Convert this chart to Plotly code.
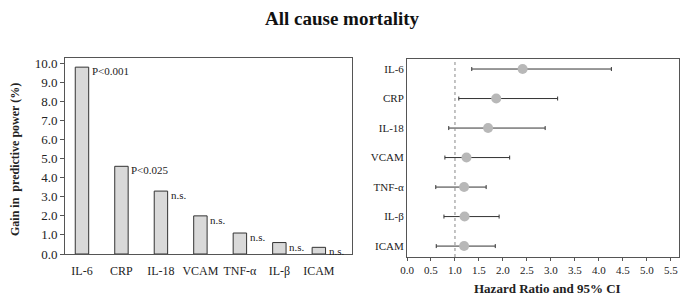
import plotly.graph_objects as go

markers = ["IL-6", "CRP", "IL-18", "VCAM", "TNF-α", "IL-β", "ICAM"]
gain = [9.8, 4.6, 3.3, 2.0, 1.1, 0.6, 0.35]
p_labels = ["P<0.001", "P<0.025", "n.s.", "n.s.", "n.s.", "n.s.", "n.s."]
hr = [2.41, 1.86, 1.69, 1.24, 1.19, 1.20, 1.19]
hr_low = [1.35, 1.08, 0.87, 0.79, 0.60, 0.77, 0.61]
hr_high = [4.26, 3.14, 2.88, 2.14, 1.65, 1.92, 1.84]
x_ticks = [0.0, 0.5, 1.0, 1.5, 2.0, 2.5, 3.0, 3.5, 4.0, 4.5, 5.0, 5.5]
ref_line = 1.0

SERIF = "Liberation Serif, Times New Roman, serif"
AX = "#555555"
TXT = "#222222"

fig = go.Figure()

fig.add_trace(go.Bar(
    x=markers, y=gain, xaxis="x", yaxis="y",
    marker=dict(color="#d9d9d9", line=dict(color="#333333", width=1)),
    width=0.34, showlegend=False,
))

fig.add_trace(go.Scatter(
    x=hr, y=markers, xaxis="x2", yaxis="y2", mode="markers",
    marker=dict(color="#b8b8b8", size=10),
    error_x=dict(type="data", symmetric=False,
                 array=[h - m for h, m in zip(hr_high, hr)],
                 arrayminus=[m - l for m, l in zip(hr, hr_low)],
                 color="#333333", thickness=1, width=2),
    showlegend=False,
))

annotations = []
for m, g, t in zip(markers, gain, p_labels):
    annotations.append(dict(
        x=m, y=g, xref="x", yref="y", text=t, showarrow=False,
        xanchor="left", yanchor="middle", xshift=8, yshift=-4,
        font=dict(family=SERIF, size=11, color=TXT),
    ))

annotations += [
    dict(x=342 / 680, y=1 - 18 / 300, xref="paper", yref="paper",
         text="<b>All cause mortality</b>", showarrow=False,
         xanchor="center", yanchor="middle",
         font=dict(family=SERIF, size=19, color="#111")),
    dict(x=15 / 680, y=1 - 160 / 300, xref="paper", yref="paper",
         text="<b>Gain in  predictive power (%)</b>", showarrow=False,
         textangle=-90, xanchor="center", yanchor="middle",
         font=dict(family=SERIF, size=12, color=TXT)),
    dict(x=547 / 680, y=1 - 288 / 300, xref="paper", yref="paper",
         text="<b>Hazard Ratio and 95% CI</b>", showarrow=False,
         xanchor="center", yanchor="middle",
         font=dict(family=SERIF, size=13, color=TXT)),
]

fig.update_layout(
    width=680, height=300,
    margin=dict(l=0, r=0, t=0, b=0),
    paper_bgcolor="white", plot_bgcolor="white",
    font=dict(family=SERIF, size=12, color=TXT),
    annotations=annotations,
    xaxis=dict(
        domain=[65 / 680, 352 / 680], anchor="y", automargin=False,
        type="category", categoryorder="array", categoryarray=markers,
        range=[-0.43, 6.84],
        showline=True, linecolor=AX, linewidth=1, mirror=True,
        ticks="", showgrid=False, zeroline=False, ticklabelstandoff=6,
        tickfont=dict(family=SERIF, size=12, color=TXT),
    ),
    yaxis=dict(
        domain=[(300 - 254) / 300, (300 - 58) / 300], anchor="x", automargin=False,
        range=[0, 10.28], dtick=1, tickformat=".1f",
        showline=True, linecolor=AX, linewidth=1, mirror=True,
        ticks="outside", ticklen=4, tickcolor=AX,
        showgrid=False, zeroline=False,
        tickfont=dict(family=SERIF, size=13, color=TXT),
    ),
    xaxis2=dict(
        domain=[407 / 680, 679 / 680], anchor="y2", automargin=False,
        range=[0, 5.67], tickvals=x_ticks,
        ticktext=[f"{v:.1f}" for v in x_ticks],
        showline=True, linecolor=AX, linewidth=1, mirror=True,
        ticks="outside", ticklen=3, tickcolor=AX,
        showgrid=False, zeroline=False,
        tickfont=dict(family=SERIF, size=11, color=TXT),
    ),
    yaxis2=dict(
        domain=[(300 - 257) / 300, (300 - 59) / 300], anchor="x2", automargin=False,
        type="category", categoryorder="array", categoryarray=markers,
        range=[6.37, -0.34],
        showline=True, linecolor=AX, linewidth=1, mirror=True,
        ticks="", showgrid=False, zeroline=False,
        tickfont=dict(family=SERIF, size=11, color=TXT),
    ),
    shapes=[dict(type="line", xref="x2", yref="y2 domain",
                 x0=ref_line, x1=ref_line, y0=0, y1=1,
                 line=dict(color="#888888", width=1, dash="dot"))],
)

fig.write_html(
    "out.html",
    config={"displayModeBar": False},
    post_script="document.body.style.margin='0';document.body.style.overflow='hidden';",
)
